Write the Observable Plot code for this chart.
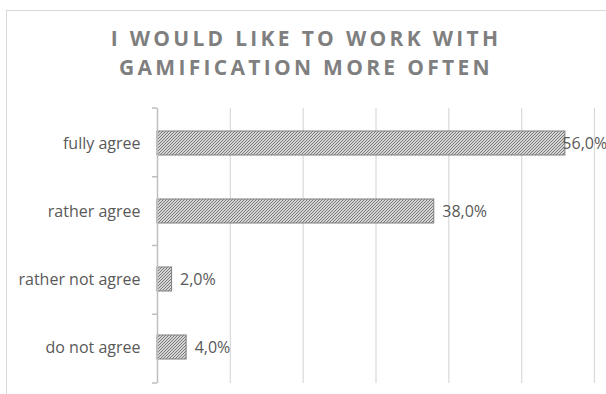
<!DOCTYPE html>
<html>
<head>
<meta charset="utf-8">
<script src="https://cdn.jsdelivr.net/npm/d3@7"></script>
<script src="https://cdn.jsdelivr.net/npm/@observablehq/plot@0.6"></script>
<style>
  html, body { margin: 0; padding: 0; background: #fff; }
  #wrap { position: relative; width: 606px; height: 394px; overflow: hidden; background: #fff; }
  #frame { position: absolute; left: 6px; top: 10px; width: 700px; height: 500px; border: 1px solid #d9d9d9; box-sizing: border-box; }
  #title { position: absolute; left: 3px; top: 24px; width: 606px; text-align: center;
           font-family: "Open Sans", sans-serif; font-weight: 700; font-size: 21px; line-height: 29px;
           letter-spacing: 3.3px; color: #7f7f7f; }
  #chart { position: absolute; left: 0; top: 0; }
</style>
</head>
<body>
<div id="wrap">
  <div id="frame"></div>
  <div id="title">I WOULD LIKE TO WORK WITH<br>GAMIFICATION MORE OFTEN</div>
  <div id="chart"></div>
</div>
<script>
const categories = ["fully agree", "rather agree", "rather not agree", "do not agree"];
const values = [56.0, 38.0, 2.0, 4.0];
const xTicks = [10, 20, 30, 40, 50, 60];

const data = categories.map((c, i) => ({label: c, value: values[i]}));
const maxValue = d3.max(values);
const fmt = v => v.toFixed(1).replace(".", ",") + "%";

const W = 606, H = 394;
const mTop = 108, mBottom = 11, mLeft = 157, mRight = 12;

const boundaryTicks = (index, scales, vals, dims) => {
  const g = d3.create("svg:g");
  const n = categories.length;
  const step = (dims.height - dims.marginTop - dims.marginBottom) / n;
  for (let k = 0; k <= n; k++) {
    const y = dims.marginTop + k * step;
    g.append("line").attr("x1", dims.marginLeft - 5).attr("x2", dims.marginLeft)
      .attr("y1", y).attr("y2", y).attr("stroke", "#bfbfbf").attr("stroke-width", 1.5);
  }
  return g.node();
};

const chart = Plot.plot({
  width: W, height: H,
  marginTop: mTop, marginBottom: mBottom, marginLeft: mLeft, marginRight: mRight,
  style: {fontFamily: "Open Sans, sans-serif", background: "transparent", overflow: "visible"},
  x: {domain: [0, 60], axis: null},
  y: {domain: categories, paddingInner: 0.64, paddingOuter: 0.32, label: null},
  marks: [
    Plot.gridX(xTicks, {stroke: "#d9d9d9", strokeOpacity: 1, strokeWidth: 1.2}),
    Plot.barX(data, {x: "value", y: "label", fill: "url(#hatch)", stroke: "#7f7f7f", strokeWidth: 1}),
    Plot.ruleX([0], {stroke: "#bfbfbf", strokeWidth: 1.5}),
    boundaryTicks,
    Plot.axisY({tickSize: 0, tickPadding: 17, fontSize: 16, fill: "#595959", label: null}),
    Plot.text(data.filter(d => d.value < maxValue), {x: "value", y: "label", text: d => fmt(d.value), textAnchor: "start", dx: 8, fontSize: 16, fill: "#595959"}),
    Plot.text(data.filter(d => d.value === maxValue), {x: "value", y: "label", text: d => fmt(d.value), textAnchor: "start", dx: -3, fontSize: 16, fill: "#595959"})
  ]
});

const defs = d3.select(chart).insert("defs", ":first-child");
const pat = defs.append("pattern").attr("id", "hatch").attr("patternUnits", "userSpaceOnUse")
  .attr("width", 3).attr("height", 3);
pat.append("rect").attr("width", 3).attr("height", 3).attr("fill", "#d4d4d4");
pat.append("path").attr("d", "M-1,1 l2,-2 M0,3 l3,-3 M2,4 l2,-2")
  .attr("stroke", "#7c7c7c").attr("stroke-width", 1);

document.getElementById("chart").appendChild(chart);
</script>
</body>
</html>
